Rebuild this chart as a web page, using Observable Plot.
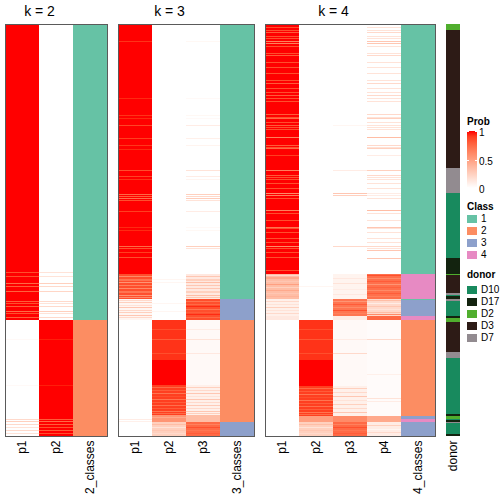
<!DOCTYPE html>
<html><head><meta charset="utf-8">
<script src="https://cdn.jsdelivr.net/npm/d3@7"></script>
<script src="https://cdn.jsdelivr.net/npm/@observablehq/plot@0.6"></script>
<style>
body{margin:0;background:#fff;font-family:"Liberation Sans",Arial,sans-serif;}
#wrap{position:relative;width:504px;height:504px;overflow:hidden;background:#fff;}
#wrap svg{position:absolute;left:0;top:0;}
.lg{position:absolute;font-size:10px;line-height:10px;color:#000;white-space:nowrap;}
.lt{font-weight:bold;}
.sw{position:absolute;width:10px;height:8px;}
.tk{position:absolute;width:2px;height:1px;background:#fff;}
</style></head><body><div id="wrap"></div>
<script>
// ---------- data: samples (rows) 0..N, segments [fromRow, toRow, value] ----------
const N = 412;
const probLegendTicks = [1, 0.5, 0];
const classNames = ["1", "2", "3", "4"];
const classColors = ["#66c2a5", "#fc8d62", "#8da0cb", "#e78ac3"];
const donorNames = ["D10", "D17", "D2", "D3", "D7"];
const donorColors = ["#188a5e", "#13230f", "#50ae2e", "#2d1b16", "#928b90"];
const titlesK = ["k = 2", "k = 3", "k = 4"];

// k = 2
const k2_p1 = [[0,296,1],[248,249,0.85],[252,253,0.85],[259,260,0.75],[262,263,0.8],[267,268,0.78],[277,278,0.8],[279,280,0.85],[282,283,0.8],[287,288,0.75],[289,290,0.85],[293,294,0.8],
  [296,412,0],[315,316,0.03],[361,362,0.03],[395,396,0.2],[397,398,0.25],[400,401,0.2],[403,404,0.15],[406,407,0.2],[409,410,0.15]];
const k2_p2 = [[0,296,0],[248,249,0.15],[252,253,0.15],[259,260,0.25],[262,263,0.2],[267,268,0.22],[277,278,0.2],[279,280,0.15],[282,283,0.2],[287,288,0.25],[289,290,0.15],[293,294,0.2],
  [296,412,1],[315,316,0.97],[361,362,0.97],[395,396,0.8],[397,398,0.75],[400,401,0.8],[403,404,0.85],[406,407,0.8],[409,410,0.85]];
const k2_class = [[0,296,1],[296,412,2]];

// k = 3
const k3_p1 = [[0,250,1],[17,18,0.93],[74,75,0.95],[91,92,0.93],[94,95,0.95],[101,102,0.88],[114,115,0.9],[121,122,0.92],[125,126,0.95],[146,147,0.85],[152,153,0.88],[155,156,0.93],[170,171,0.75],[172,173,0.8],[174,175,0.72],[176,177,0.85],[187,188,0.9],[203,204,0.95],[206,207,0.95],[222,223,0.75],[224,225,0.85],[228,229,0.9],[233,234,0.85],
  [250,275,0.85],[252,253,0.6],[255,257,0.7],[258,259,0.55],[261,262,0.65],[264,265,0.6],[267,269,0.7],[271,272,0.55],[273,274,0.6],
  [275,296,0.05],[276,277,0.2],[278,279,0.25],[281,282,0.15],[283,284,0.3],[286,287,0.2],[288,289,0.25],[291,292,0.3],[293,294,0.2],
  [296,412,0],[395,396,0.1],[397,398,0.08]];
const k3_p2 = [[0,296,0],[255,256,0.05],[258,259,0.05],[279,280,0.05],[287,288,0.05],
  [296,336,0.93],[305,306,0.85],[315,316,0.8],[329,330,0.85],
  [336,361,1],
  [361,391,0.9],[363,364,0.75],[366,367,0.8],[369,370,0.7],[372,373,0.85],[375,376,0.7],[378,379,0.8],[381,382,0.72],[384,385,0.8],[387,388,0.7],[389,390,0.75],
  [391,398,0.55],[393,394,0.45],
  [398,412,0.25],[400,401,0.35],[403,404,0.15],[406,407,0.3],[409,410,0.2]];
const k3_p3 = [[0,250,0],[17,18,0.04],[74,75,0.03],[91,92,0.04],[94,95,0.03],[101,102,0.1],[114,115,0.08],[121,122,0.06],[146,147,0.15],[152,153,0.1],[155,156,0.06],[170,171,0.25],[172,173,0.2],[174,175,0.27],[176,177,0.15],[187,188,0.1],[203,204,0.03],[206,207,0.04],[222,223,0.25],[224,225,0.15],
  [250,275,0.12],[252,253,0.3],[255,257,0.25],[258,259,0.35],[261,262,0.3],[264,265,0.3],[267,269,0.25],[271,272,0.35],[273,274,0.3],
  [275,296,0.85],[277,278,0.7],[280,281,0.75],[282,283,0.95],[285,286,0.7],[288,289,0.8],[290,291,0.95],[293,294,0.75],
  [296,361,0.03],[305,306,0.1],[315,316,0.15],[329,330,0.12],
  [361,391,0.08],[363,364,0.25],[366,367,0.2],[369,370,0.3],[372,373,0.15],[375,376,0.3],[378,379,0.2],[381,382,0.28],[384,385,0.2],[387,388,0.3],[389,390,0.25],
  [391,398,0.35],
  [398,412,0.75],[400,401,0.65],[403,404,0.85],[406,407,0.7],[409,410,0.8]];
const k3_class = [[0,275,1],[275,296,3],[296,398,2],[398,412,3]];

// k = 4
const k4_p1 = [[0,250,1],[3,4,0.85],[6,7,0.85],[8,9,0.8],[12,13,0.85],[14,15,0.85],[17,18,0.65],[19,20,0.65],[22,23,0.85],[29,30,0.85],[31,32,0.8],[38,39,0.85],[43,44,0.85],[49,50,0.85],[56,57,0.85],[59,60,0.8],[64,65,0.85],[68,69,0.85],[71,72,0.8],[74,75,0.85],[77,78,0.85],[90,91,0.8],[93,94,0.85],[94,95,0.75],[98,99,0.85],[101,102,0.8],[103,104,0.85],[105,106,0.85],[113,114,0.65],[121,122,0.8],[123,124,0.85],[124,125,0.75],[131,132,0.9],[146,147,0.65],[151,152,0.8],[153,154,0.85],[155,156,0.85],[159,160,0.85],[164,165,0.85],[169,170,0.6],[171,172,0.65],[174,175,0.85],[186,187,0.65],[189,190,0.85],[196,197,0.85],[203,204,0.7],[204,205,0.85],[208,209,0.85],[214,215,0.85],[218,219,0.85],[222,223,0.6],[224,225,0.85],[228,229,0.85],[233,234,0.85],[246,247,0.85],
  [250,275,0.35],[251,252,0.2],[253,255,0.45],[257,258,0.3],[260,261,0.5],[263,264,0.25],[266,267,0.45],[269,270,0.3],[272,273,0.4],
  [275,292,0.08],[277,278,0.2],[280,281,0.15],[283,284,0.25],[286,287,0.15],[289,290,0.2],
  [292,296,0.12],[296,412,0]];
const k4_p2 = [[0,296,0],[262,263,0.05],
  [296,336,0.93],[305,306,0.85],[315,316,0.82],[329,330,0.85],
  [336,362,1],
  [362,392,0.9],[364,365,0.75],[367,368,0.8],[370,371,0.7],[373,374,0.85],[376,377,0.7],[379,380,0.8],[382,383,0.72],[385,386,0.8],[388,389,0.7],[390,391,0.75],
  [392,398,0.5],
  [398,412,0.25],[400,401,0.35],[403,404,0.15],[406,407,0.3],[409,410,0.2]];
const k4_p3 = [[0,250,0],[101,102,0.05],[146,147,0.1],[169,170,0.3],[171,172,0.25],[222,223,0.2],
  [250,275,0.06],[254,255,0.12],[259,260,0.15],[265,266,0.1],[270,271,0.12],
  [275,292,0.7],[277,278,0.55],[280,281,0.8],[283,284,0.6],[286,287,0.85],[289,290,0.65],
  [292,296,0.1],
  [296,362,0.03],[315,316,0.1],[329,330,0.2],
  [362,392,0.08],[364,365,0.25],[368,369,0.2],[372,373,0.3],[376,377,0.15],[380,381,0.25],[384,385,0.2],[388,389,0.3],
  [392,398,0.6],
  [398,412,0.75],[400,401,0.65],[403,404,0.85],[406,407,0.7],[409,410,0.8]];
const k4_p4 = [[0,250,0],[3,4,0.15],[6,7,0.15],[8,9,0.2],[12,13,0.15],[14,15,0.15],[17,18,0.3],[19,20,0.3],[22,23,0.15],[29,30,0.15],[31,32,0.2],[38,39,0.15],[43,44,0.15],[49,50,0.15],[56,57,0.15],[59,60,0.2],[64,65,0.15],[68,69,0.15],[71,72,0.2],[74,75,0.15],[77,78,0.15],[90,91,0.2],[93,94,0.15],[94,95,0.25],[98,99,0.15],[101,102,0.15],[103,104,0.15],[105,106,0.15],[113,114,0.35],[121,122,0.2],[123,124,0.15],[124,125,0.25],[131,132,0.1],[146,147,0.25],[151,152,0.2],[153,154,0.15],[155,156,0.15],[159,160,0.15],[164,165,0.15],[169,170,0.1],[171,172,0.1],[174,175,0.15],[186,187,0.35],[189,190,0.15],[196,197,0.15],[203,204,0.3],[204,205,0.15],[208,209,0.15],[214,215,0.15],[218,219,0.15],[222,223,0.2],[224,225,0.15],[226,227,0.3],[234,235,0.3],
  [250,275,0.72],[251,252,0.85],[254,255,0.6],[257,258,0.8],[260,261,0.55],[263,264,0.78],[266,267,0.6],[269,270,0.8],[272,273,0.65],
  [275,292,0.2],[276,277,0.35],[279,280,0.1],[282,283,0.3],[285,286,0.15],[288,289,0.35],[290,291,0.6],
  [292,296,0.75],
  [296,392,0.02],[315,316,0.2],[350,351,0.08],[374,375,0.15],[377,378,0.1],
  [392,398,0.45],
  [398,412,0.1],[401,402,0.25],[405,406,0.05],[408,409,0.2]];
const k4_class = [[0,250,1],[250,275,4],[275,276,1],[276,292,3],[292,296,4],[296,392,2],[392,395,3],[395,398,4],[398,412,3]];

// donor annotation: [fromRow, toRow, donorIndex]
const donorSegs = [[0,6,2],[6,144,3],[144,169,4],[169,234,0],[234,250,1],[250,251,2],[251,269,3],[269,271,4],[271,272,0],[272,275,1],[275,277,4],[277,292,0],[292,294,1],[294,298,2],[298,328,3],[328,334,4],[334,390,0],[390,392,1],[392,395,2],[395,396,0],[396,398,1],[398,399,4],[399,410,0],[410,412,1]];

// ---------- build tables ----------
const panels = [
  {title: titlesK[0], cols: [["p1", k2_p1], ["p2", k2_p2]], cls: k2_class, clsLabel: "2_classes"},
  {title: titlesK[1], cols: [["p1", k3_p1], ["p2", k3_p2], ["p3", k3_p3]], cls: k3_class, clsLabel: "3_classes"},
  {title: titlesK[2], cols: [["p1", k4_p1], ["p2", k4_p2], ["p3", k4_p3], ["p4", k4_p4]], cls: k4_class, clsLabel: "4_classes"}
];
const GAP = 11 / 34, DONOR_W = 14 / 34;
const probCells = [], classCells = [], donorCells = [], labels = [], frames = [], titles = [];
let cx = 0;
for (const p of panels) {
  const x0 = cx;
  for (const [name, segs] of p.cols) {
    for (const [a, b, v] of segs) probCells.push({x1: cx, x2: cx + 1, y1: a, y2: b, value: v});
    labels.push({x: cx + 0.5, y: N, text: name});
    cx += 1;
  }
  for (const [a, b, k] of p.cls) classCells.push({x1: cx, x2: cx + 1, y1: a, y2: b, cls: k});
  labels.push({x: cx + 0.5, y: N, text: p.clsLabel});
  cx += 1;
  frames.push({x1: x0, x2: cx, y1: 0, y2: N});
  titles.push({x: (x0 + cx - 1) / 2, y: 0, text: p.title});
  cx += GAP;
}
for (const [a, b, d] of donorSegs) donorCells.push({x1: cx, x2: cx + DONOR_W, y1: a, y2: b, donor: d});
labels.push({x: cx + DONOR_W / 2, y: N, text: "donor"});
const totalX = cx + DONOR_W;

const rectOpts = {x1: "x1", x2: "x2", y1: "y1", y2: "y2", shapeRendering: "crispEdges"};
const marks = [
  Plot.rect(probCells, {...rectOpts, fill: "value"})
];
classColors.forEach((c, i) => marks.push(Plot.rect(classCells.filter(d => d.cls === i + 1), {...rectOpts, fill: c})));
donorColors.forEach((c, i) => marks.push(Plot.rect(donorCells.filter(d => d.donor === i), {...rectOpts, fill: c})));
marks.push(
  Plot.rect(frames, {...rectOpts, fill: "none", stroke: "#5a5a5a", strokeWidth: 1}),
  Plot.text(titles, {x: "x", y: "y", text: "text", dy: -13, fontSize: 14, fill: "#000"}),
  Plot.text(labels, {x: "x", y: "y", text: "text", rotate: -90, textAnchor: "end", dy: 4, fontSize: 12, fill: "#000"})
);

const plot = Plot.plot({
  width: 504, height: 504,
  marginLeft: 5, marginRight: 44, marginTop: 24, marginBottom: 68,
  x: {domain: [0, totalX], axis: null},
  y: {domain: [0, N], reverse: true, axis: null},
  color: {type: "linear", domain: [0, 1], range: ["white", "red"], interpolate: "lab"},
  style: {fontFamily: "'Liberation Sans', Arial, sans-serif", background: "white", overflow: "visible"},
  marks
});
const wrap = document.getElementById("wrap");
wrap.appendChild(plot);

// ---------- legends ----------
const colorScale = plot.scale("color");
function add(html, cls, left, top, extra) {
  const d = document.createElement("div");
  d.className = cls; d.style.left = left + "px"; d.style.top = top + "px";
  if (html != null) d.textContent = html;
  if (extra) Object.assign(d.style, extra);
  wrap.appendChild(d); return d;
}
add("Prob", "lg lt", 467, 117);
const stops = d3.range(0, 1.0001, 0.1).map(t => colorScale.apply(t) + " " + (t * 100) + "%");
add(null, "lg", 467, 131, {width: "10px", height: "57px", background: "linear-gradient(to top," + stops.join(",") + ")"});
probLegendTicks.forEach(t => {
  const y = 131 + (1 - t) * 57;
  add(String(t), "lg", 479, y - 3);
  add(null, "tk", 467, Math.min(y, 187));
  add(null, "tk", 475, Math.min(y, 187));
});
add("Class", "lg lt", 467, 202);
classNames.forEach((n, i) => {
  add(null, "sw", 467, 215 + i * 12, {background: classColors[i]});
  add(n, "lg", 481, 214 + i * 12);
});
add("donor", "lg lt", 467, 270);
donorNames.forEach((n, i) => {
  add(null, "sw", 467, 286 + i * 12, {background: donorColors[i]});
  add(n, "lg", 481, 285 + i * 12);
});
</script></body></html>
